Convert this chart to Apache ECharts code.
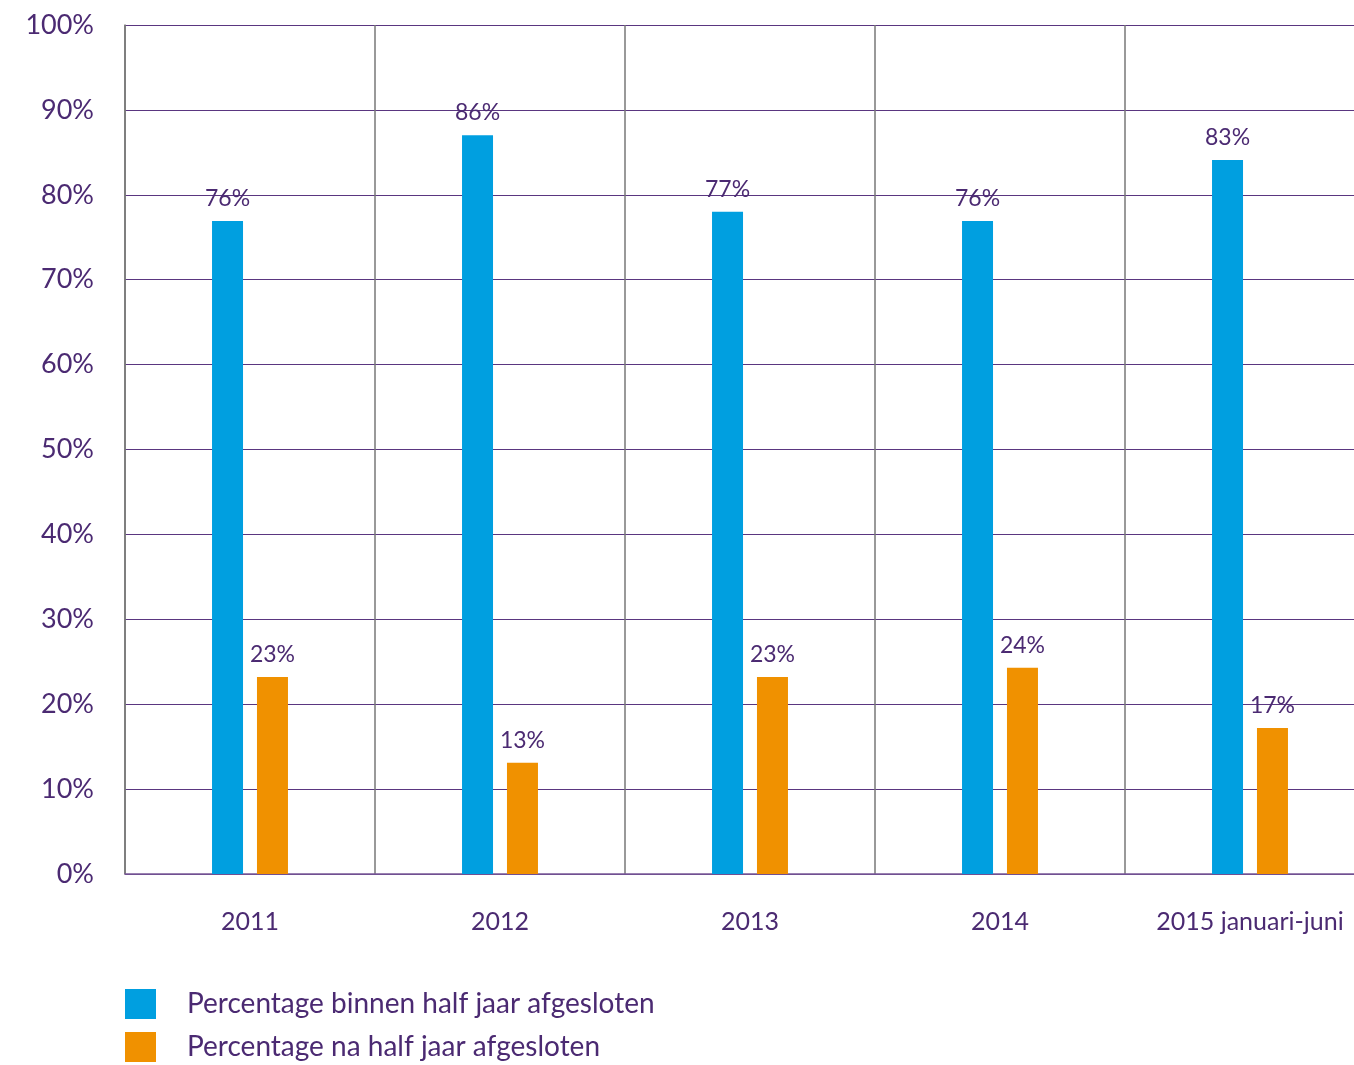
<!DOCTYPE html>
<html>
<head>
<meta charset="utf-8">
<script src="https://cdn.jsdelivr.net/npm/echarts@6/dist/echarts.min.js"></script>
<style>
  html, body { margin: 0; padding: 0; background: #fff; overflow: hidden; }
  /* the plot runs past the right edge of the picture, so the chart is a bit wider than the window */
  #chart-container { width: 1375px; height: 1065px; }
</style>
</head>
<body>
<div id="chart-container"></div>
<script>
var categories = ["2011", "2012", "2013", "2014", "2015 januari-juni"];
var seriesNames = ["Percentage binnen half jaar afgesloten", "Percentage na half jaar afgesloten"];
// bar heights
var binnenValues = [76.9, 87.0, 78.0, 76.9, 84.1];
var naValues = [23.2, 13.1, 23.2, 24.3, 17.2];
// printed labels
var binnenLabels = ["76%", "86%", "77%", "76%", "83%"];
var naLabels = ["23%", "13%", "23%", "24%", "17%"];

var textColor = "#4b2a72";
var fontFamily = "Lato, 'Open Sans', sans-serif";

var dom = document.getElementById("chart-container");
var myChart = echarts.init(dom, null, { renderer: "canvas" });

function barSeries(name, values, labels, color) {
  return {
    name: name,
    type: "bar",
    data: values,
    barWidth: 31,
    barGap: "45%",
    itemStyle: { color: color },
    label: {
      show: true,
      position: "top",
      distance: 11,
      color: textColor,
      fontFamily: fontFamily,
      fontSize: 23,
      formatter: function (p) {
        return labels[p.dataIndex];
      },
    },
  };
}

var option = {
  animation: false,
  textStyle: { fontFamily: fontFamily },
  grid: { left: 125, top: 25, right: 0, bottom: 191, containLabel: false },
  legend: {
    orient: "vertical",
    left: 125,
    top: 989,
    padding: 0,
    itemWidth: 31,
    itemHeight: 30,
    itemGap: 13,
    icon: "rect",
    data: seriesNames,
    textStyle: {
      color: textColor,
      fontFamily: fontFamily,
      fontSize: 28,
      padding: [0, 0, 0, 26],
    },
  },
  xAxis: {
    type: "category",
    data: categories,
    axisTick: { show: false },
    axisLine: { show: true, lineStyle: { color: "#7a5a98", width: 1.5 } },
    axisLabel: { color: textColor, fontSize: 25, margin: 35 },
    splitLine: { show: true, lineStyle: { color: "#777777", width: 1.5 } },
  },
  yAxis: {
    type: "value",
    min: 0,
    max: 100,
    interval: 10,
    axisLine: { show: true, lineStyle: { color: "#777777", width: 1.5 } },
    axisTick: { show: false },
    axisLabel: { color: textColor, fontSize: 27, margin: 31, formatter: "{value}%" },
    splitLine: { show: true, lineStyle: { color: "#5a3680", width: 1.2 } },
  },
  series: [
    barSeries(seriesNames[0], binnenValues, binnenLabels, "#009fe0"),
    barSeries(seriesNames[1], naValues, naLabels, "#f09100"),
  ],
};

myChart.setOption(option);
window.addEventListener("resize", myChart.resize);
</script>
</body>
</html>
